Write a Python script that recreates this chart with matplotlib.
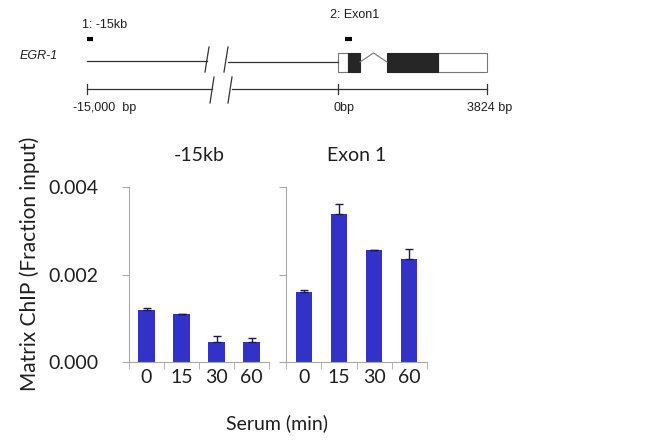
import matplotlib
matplotlib.use("Agg")
import matplotlib.pyplot as plt
import numpy as np
from matplotlib.patches import Rectangle

plt.rcParams['font.family'] = ['Lato', 'DejaVu Sans']

# ---- data ----
times = ['0', '15', '30', '60']
panels = ['-15kb', 'Exon 1']
vals_15kb = [0.00119, 0.00109, 0.00046, 0.00045]
err_15kb = [0.00005, 0.00001, 0.00013, 0.00011]
vals_exon1 = [0.00161, 0.00338, 0.00256, 0.00235]
err_exon1 = [0.00004, 0.00022, 0.00001, 0.00023]
yticks = [0.0, 0.002, 0.004]

# gene model (bp) for the schematic, right of the break
exon_white = [(0, 257), (2566, 3824)]
exon_black = [(257, 565), (1258, 2566)]
intron = (565, 1258)
gene_end = 3824

bar_color = '#3232C8'
spine_col = '#A8A8A8'
txt_col = '#1e1e1e'

fig = plt.figure(figsize=(6.5, 4.4), dpi=100)

# ---------- top schematic (pixel coordinates) ----------
top = fig.add_axes([0, 0, 1, 1])
top.set_xlim(0, 650)
top.set_ylim(440, 0)
top.axis('off')

def bpx(bp):
    # 0bp at x=338, 3824bp at x=487
    return 338 + bp * (487 - 338) / gene_end

lw = 0.9
sfont = dict(fontsize=9, family='Liberation Sans', va='center', ha='left',
             color=txt_col)
top.text(20, 56, 'EGR-1', fontstyle='italic', **sfont)
# promoter line with break
top.plot([87, 207], [61, 61], color='#333333', lw=lw)
top.plot([228, bpx(0)], [62, 62], color='#333333', lw=lw)
top.plot([205, 209], [72, 47], color='#333333', lw=lw)
top.plot([224, 228], [72, 47], color='#333333', lw=lw)
# exons
for a, b in exon_white:
    top.add_patch(Rectangle((bpx(a), 53), bpx(b) - bpx(a), 19,
                            facecolor='white', edgecolor='#777777', lw=0.8))
for a, b in exon_black:
    top.add_patch(Rectangle((bpx(a), 53), bpx(b) - bpx(a), 19,
                            facecolor='#262626', edgecolor='#262626', lw=0.8))
mid = (bpx(intron[0]) + bpx(intron[1])) / 2
top.plot([bpx(intron[0]), mid, bpx(intron[1])], [62, 53, 62],
         color='#777777', lw=0.8)

# scale line
top.plot([87, 212], [89, 89], color='#333333', lw=lw)
top.plot([232, bpx(gene_end)], [89, 89], color='#333333', lw=lw)
for xt in [87, bpx(0), bpx(gene_end)]:
    top.plot([xt, xt], [84, 94], color='#333333', lw=lw)
top.plot([210, 214], [103, 77], color='#333333', lw=lw)
top.plot([228, 232], [103, 77], color='#333333', lw=lw)
top.text(73, 108, '-15,000  bp', **sfont)
top.text(bpx(0) - 5, 108, '0bp', **sfont)
top.text(bpx(gene_end) - 20, 108, '3824 bp', **sfont)

# primer positions
top.text(82, 25, '1: -15kb', **sfont)
top.plot([87, 93], [39, 39], color='black', lw=3, solid_capstyle='butt')
top.text(330, 15, '2: Exon1', **sfont)
top.plot([345, 352], [39, 39], color='black', lw=3, solid_capstyle='butt')

# ---------- bar panels ----------
ax1 = fig.add_axes([129 / 650, 1 - 362 / 440, 140 / 650, 175 / 440])
ax2 = fig.add_axes([286 / 650, 1 - 362 / 440, 141 / 650, 175 / 440])

x = np.arange(len(times))
for ax, vals, errs, title in [(ax1, vals_15kb, err_15kb, panels[0]),
                              (ax2, vals_exon1, err_exon1, panels[1])]:
    ax.bar(x, vals, width=0.46, color=bar_color, zorder=2)
    ax.errorbar(x, vals, yerr=[np.zeros(len(errs)), errs], fmt='none',
                ecolor='#1a1a50', elinewidth=1.0, capsize=3, capthick=1.0,
                zorder=3)
    ax.set_xlim(-0.5, 3.5)
    ax.set_ylim(0, 0.004)
    ax.set_yticks(yticks)
    ax.set_xticks(x)
    ax.set_xticklabels(times, fontsize=14, color=txt_col)
    ax.set_xticks(np.arange(-0.5, 4, 1), minor=True)
    ax.tick_params(axis='x', which='major', length=0, pad=5)
    ax.tick_params(axis='x', which='minor', length=5, color=spine_col)
    ax.tick_params(axis='y', length=5, color=spine_col)
    for s in ['top', 'right']:
        ax.spines[s].set_visible(False)
    for s in ['left', 'bottom']:
        ax.spines[s].set_color(spine_col)
        ax.spines[s].set_linewidth(0.8)
    ax.set_title(title, fontsize=14, color=txt_col, pad=19)

ax1.set_yticklabels(['0.000', '0.002', '0.004'], fontsize=14, color=txt_col)
ax1.tick_params(axis='y', pad=17)
ax2.set_yticklabels([])
fig.text(30 / 650, 1 - 264 / 440, 'Matrix ChIP (Fraction input)',
         fontsize=15, color=txt_col, rotation=90, ha='center', va='center')
fig.text(277 / 650, 1 - 423 / 440, 'Serum (min)', fontsize=14,
         color=txt_col, ha='center', va='center')

fig.savefig('out.png', dpi=100)
